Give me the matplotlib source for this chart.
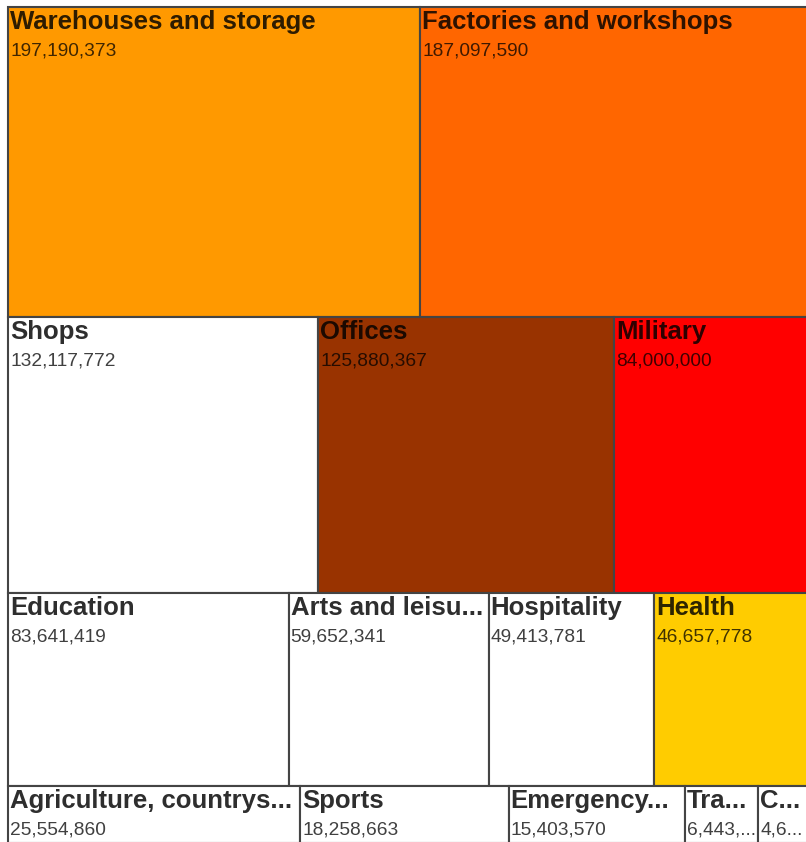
import matplotlib.pyplot as plt
from matplotlib.patches import Rectangle

plt.rcParams['font.family'] = ['Liberation Sans', 'DejaVu Sans']

names = ['Warehouses and storage', 'Factories and workshops',
         'Shops', 'Offices', 'Military',
         'Education', 'Arts and leisure', 'Hospitality', 'Health',
         'Agriculture, countryside', 'Sports', 'Emergency services',
         'Transport', 'Community']
values = [197190373, 187097590,
          132117772, 125880367, 84000000,
          83641419, 59652341, 49413781, 46657778,
          25554860, 18258663, 15403570, 6443000, 4600000]
colors = ['#ff9900', '#ff6600',
          '#ffffff', '#993300', '#ff0000',
          '#ffffff', '#ffffff', '#ffffff', '#ffcc00',
          '#ffffff', '#ffffff', '#ffffff', '#ffffff', '#ffffff']
row_sizes = [2, 3, 4, 5]

# chart area in pixels (the saved image crops the right and bottom edge)
X0, Y0, W, H = 8, 7, 803, 836

fig = plt.figure(figsize=(8.06, 8.42), dpi=100)
ax = fig.add_axes([0, 0, 1, 1])
ax.set_xlim(0, 806)
ax.set_ylim(842, 0)
ax.axis('off')
renderer = fig.canvas.get_renderer()


def fit_text(t, s, avail):
    t.set_text(s)
    if t.get_window_extent(renderer).width <= avail:
        return
    for n in range(len(s) - 1, 0, -1):
        t.set_text(s[:n].rstrip() + '...')
        if t.get_window_extent(renderer).width <= avail:
            return


total = sum(values)
y = Y0
i = 0
for rs in row_sizes:
    row_vals = values[i:i + rs]
    row_sum = sum(row_vals)
    h = H * row_sum / total
    x = X0
    for k in range(rs):
        w = W * row_vals[k] / row_sum
        ax.add_patch(Rectangle((x, y), w, h, facecolor=colors[i + k],
                               edgecolor='#444444', linewidth=1.5))
        t1 = ax.text(x + 2, y + 22, '', fontsize=18.5, fontweight='bold',
                     color='black', alpha=0.82, va='baseline', ha='left')
        fit_text(t1, names[i + k], w - 5.5)
        t2 = ax.text(x + 2, y + 48, '', fontsize=13.8,
                     color='black', alpha=0.75, va='baseline', ha='left')
        fit_text(t2, f'{row_vals[k]:,}', w - 3)
        x += w
    y += h
    i += rs

fig.savefig('out.png', dpi=100)
